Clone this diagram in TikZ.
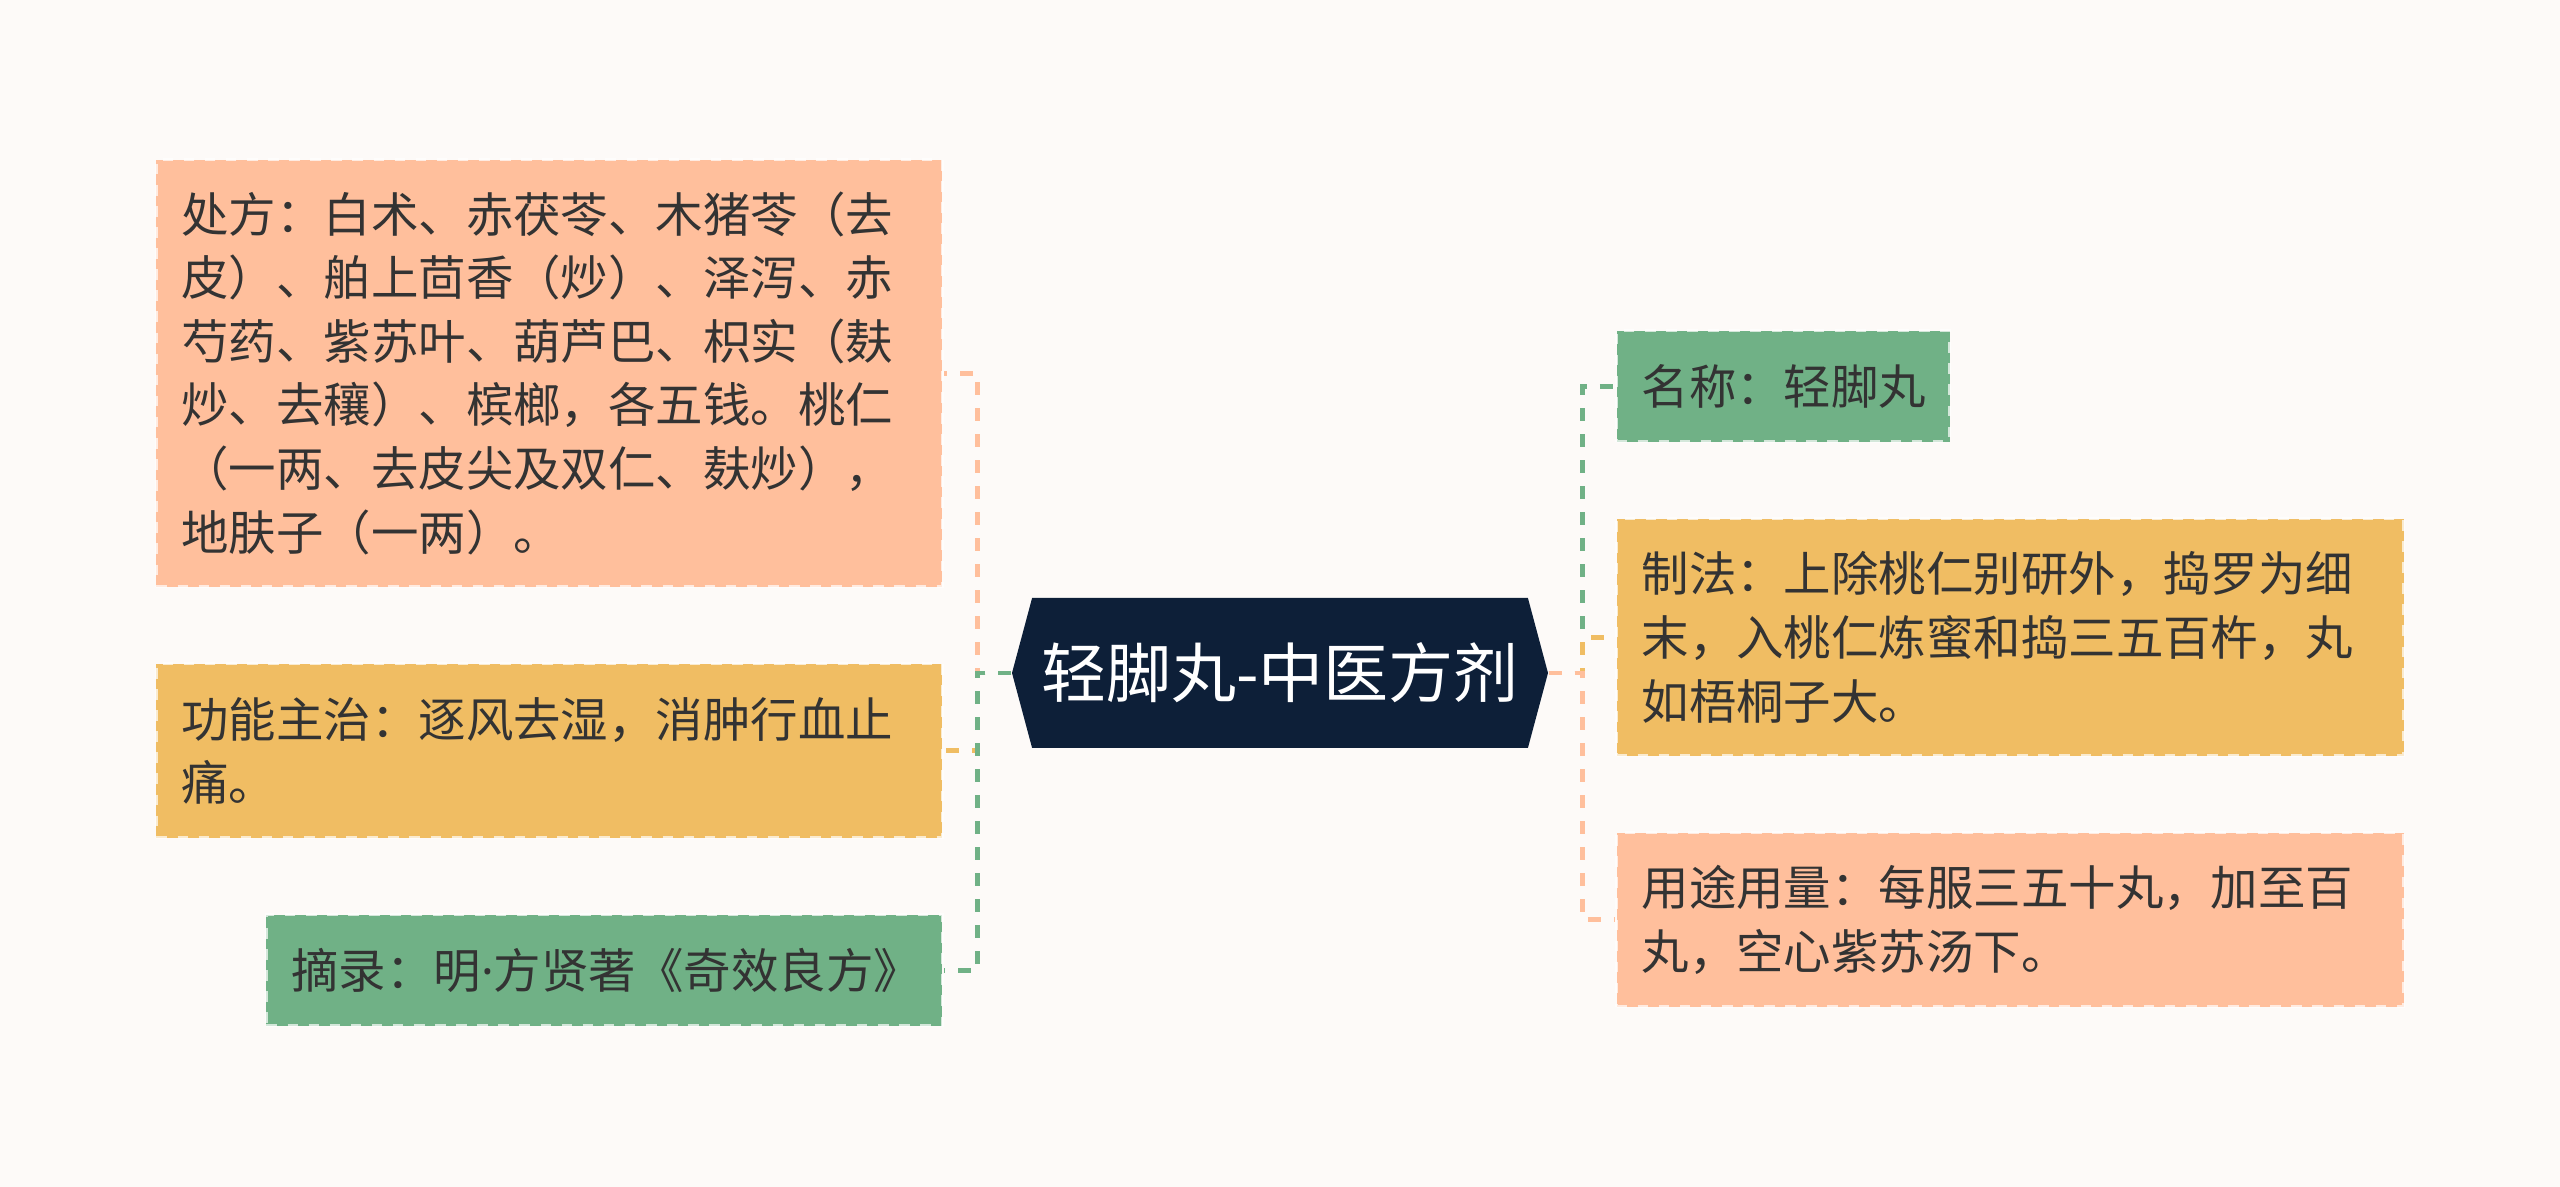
\documentclass[tikz,border=0pt]{standalone}
\usepackage{fontspec}
\setmainfont{Noto Sans CJK SC}
\newfontfamily\latinfont{Noto Sans}
\usepackage{tikz}
\usetikzlibrary{positioning,shapes.symbols}
\usepackage{xcolor}

\definecolor{paper}{HTML}{FDFAF8}
\definecolor{salmon}{HTML}{FFBF9C}
\definecolor{amber}{HTML}{F0BD63}
\definecolor{sage}{HTML}{70B186}
\definecolor{navy}{HTML}{0D1F38}
\definecolor{ink}{HTML}{333333}

\begin{document}
\begin{tikzpicture}[
  node distance=0.74cm,
  card/.style={rectangle, draw=white, draw opacity=0.7, dashed,
               line width=0.9pt, inner xsep=0.25cm, inner ysep=0pt,
               align=left, text=ink,
               font=\fontsize{13.5}{18.1}\selectfont},
  hub/.style={signal, signal to=west and east, signal pointer angle=150,
              fill=navy, text=white, inner sep=0pt,
              minimum width=5.36cm, minimum height=1.5cm,
              font=\fontsize{18.5}{22}\selectfont},
  link/.style={line width=1.4pt, dash pattern=on 3.7pt off 3.7pt}
]

% page
\fill[paper] (0,0) rectangle (25.6,11.87);

\node[hub] (root) at (12.8,5.14) {轻脚丸-中医方剂};

% left side
\node[card, fill=salmon, text width=7.36cm, minimum height=4.27cm,
      anchor=north east] (recipe) at (9.44,10.29)
  {处方：白术、赤茯苓、木猪苓（去\\皮）、舶上茴香（炒）、泽泻、赤\\芍药、紫苏叶、葫芦巴、枳实（麸\\炒、去穰）、槟榔，各五钱。桃仁\\（一两、去皮尖及双仁、麸炒），\\地肤子（一两）。};
\node[card, fill=amber, text width=7.36cm, minimum height=1.74cm,
      below=of recipe.south east, anchor=north east] (effect)
  {功能主治：逐风去湿，消肿行血止\\痛。};
\node[card, fill=sage, text width=6.26cm, minimum height=1.11cm,
      below=of effect.south east, anchor=north east] (source)
  {摘录：明{\latinfont ·}方贤著《奇效良方》};

% right side
\node[card, fill=sage, text width=2.83cm, minimum height=1.11cm,
      anchor=north west] (name) at (16.15,8.58)
  {名称：轻脚丸};
\node[card, fill=amber, text width=7.37cm, minimum height=2.37cm,
      below=of name.south west, anchor=north west] (making)
  {制法：上除桃仁别研外，捣罗为细\\末，入桃仁炼蜜和捣三五百杵，丸\\如梧桐子大。};
\node[card, fill=salmon, text width=7.37cm, minimum height=1.74cm,
      below=of making.south west, anchor=north west] (dosage)
  {用途用量：每服三五十丸，加至百\\丸，空心紫苏汤下。};

% branches
\draw[link, salmon] (root.west) -- ++(-0.34,0) |- (recipe.east);
\draw[link, amber]  (root.west) -- ++(-0.34,0) |- (effect.east);
\draw[link, sage]   (root.west) -- ++(-0.34,0) |- (source.east);
\draw[link, sage]   (root.east) -- ++(0.34,0) |- (name.west);
\draw[link, amber]  (root.east) -- ++(0.34,0) |- (making.west);
\draw[link, salmon] (root.east) -- ++(0.34,0) |- (dosage.west);

\end{tikzpicture}
\end{document}
